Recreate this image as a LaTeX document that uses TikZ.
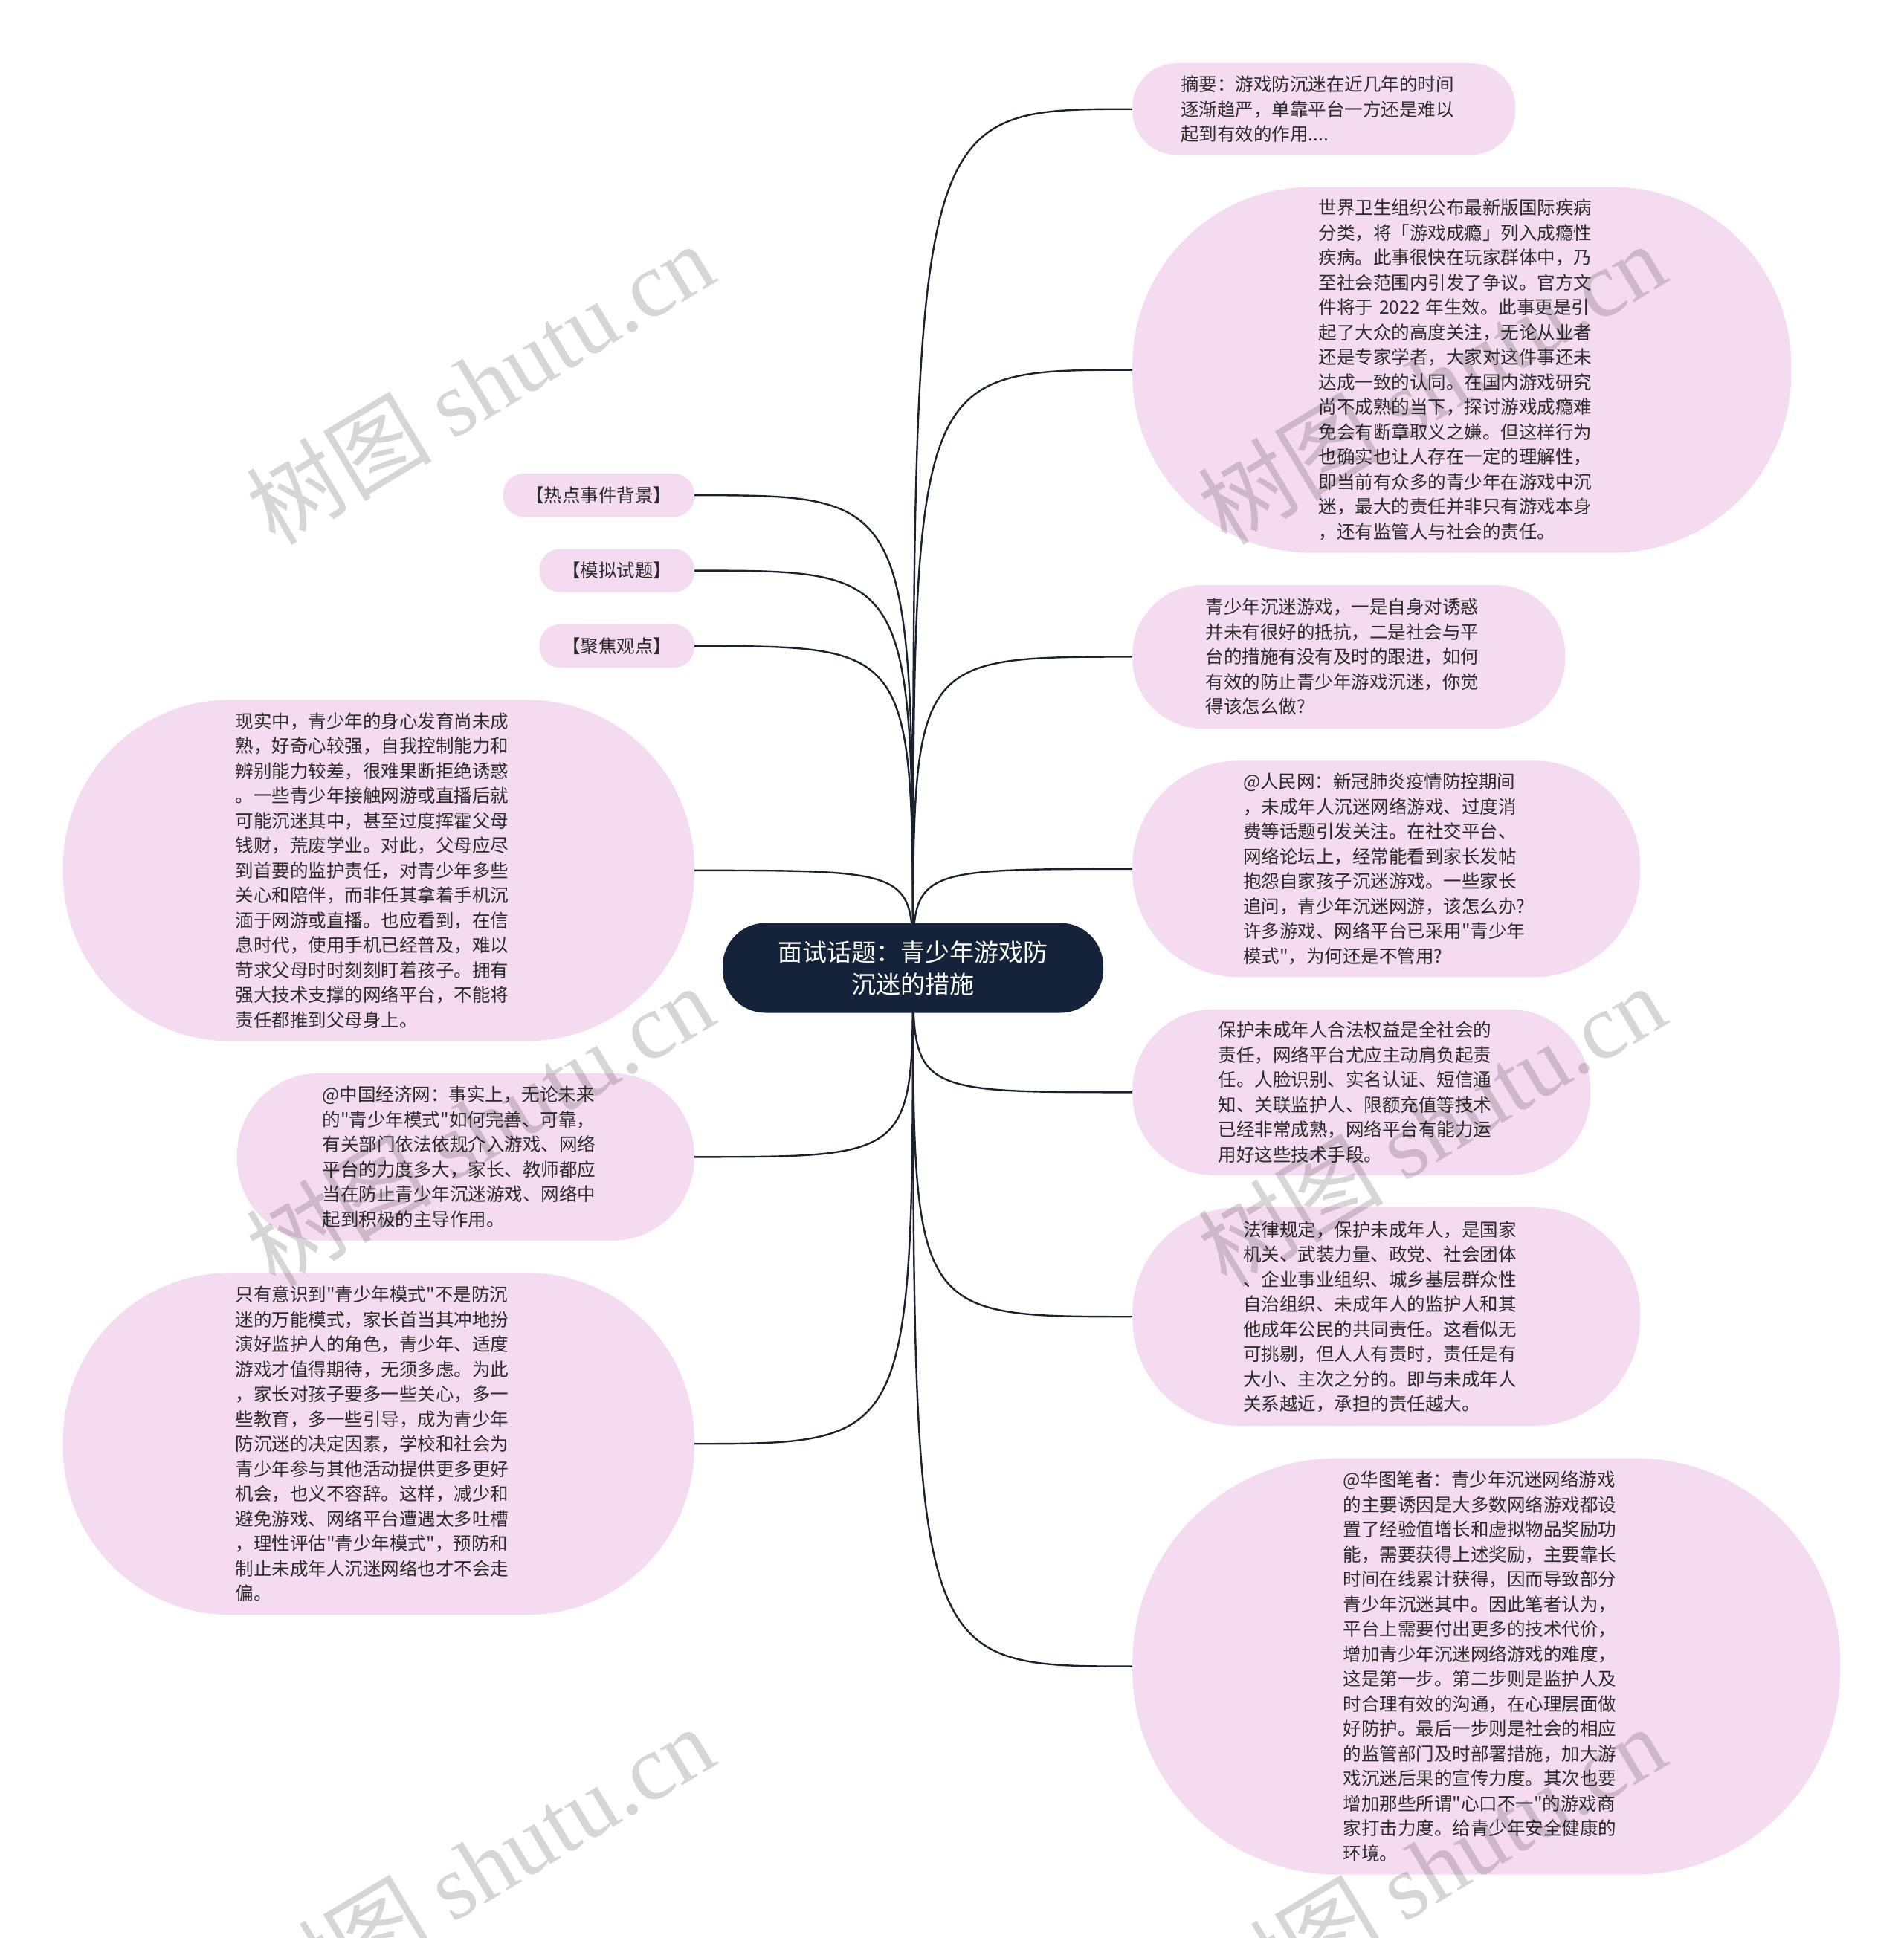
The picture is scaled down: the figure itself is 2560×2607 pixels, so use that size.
\documentclass[tikz,border=0pt]{standalone}
\usepackage{fontspec}
\setmainfont{Noto Sans CJK SC}[Ligatures=TeXOff]
\newfontfamily\wmlatin{Liberation Serif}
\usepackage{xcolor}
\usetikzlibrary{positioning,backgrounds}
\definecolor{leafpink}{HTML}{F5DBEF}
\definecolor{corenavy}{HTML}{15233A}
\definecolor{linkink}{HTML}{1B222E}
\definecolor{textink}{HTML}{2B2B2B}

\begin{document}
\begin{tikzpicture}[
  x=1pt, y=1pt,
  node distance=43pt and 0pt,
  leaf/.style={fill=leafpink, text=textink, inner sep=0pt, align=left,
               font=\fontsize{24.5}{33.5}\selectfont},
  para/.style={leaf, text width=385pt},
  core/.style={fill=corenavy, text=white, align=center, inner sep=0pt,
               minimum width=512pt, minimum height=121pt, rounded corners=58pt,
               font=\fontsize{33}{43}\selectfont},
  link/.style={draw=linkink, line width=2.4pt},
  wm/.style={text=black, opacity=0.16, rotate=31, font=\fontsize{125}{125}\selectfont},
]
\useasboundingbox (0,0) rectangle (2560,-2607);
\node[core] (core) at (1228,-1302) {面试话题：青少年游戏防\\沉迷的措施};
\node[para, anchor=north west, minimum width=515pt, minimum height=123pt,
  rounded corners=59pt] (abstract) at (1523,-85)
{摘要：游戏防沉迷在近几年的时间\\
逐渐趋严，单靠平台一方还是难以\\
起到有效的作用....};
\node[para, below right=of abstract.south west, minimum width=886pt,
  minimum height=492pt, rounded corners=240pt] (who)
{世界卫生组织公布最新版国际疾病\\
分类，将「游戏成瘾」列入成瘾性\\
疾病。此事很快在玩家群体中，乃\\
至社会范围内引发了争议。官方文\\
件将于 2022 年生效。此事更是引\\
起了大众的高度关注，无论从业者\\
还是专家学者，大家对这件事还未\\
达成一致的认同。在国内游戏研究\\
尚不成熟的当下，探讨游戏成瘾难\\
免会有断章取义之嫌。但这样行为\\
也确实也让人存在一定的理解性，\\
即当前有众多的青少年在游戏中沉\\
迷，最大的责任并非只有游戏本身\\
，还有监管人与社会的责任。};
\node[para, below right=of who.south west, minimum width=582pt,
  minimum height=193pt, rounded corners=94pt] (question)
{青少年沉迷游戏，一是自身对诱惑\\
并未有很好的抵抗，二是社会与平\\
台的措施有没有及时的跟进，如何\\
有效的防止青少年游戏沉迷，你觉\\
得该怎么做?};
\node[para, below right=of question.south west, minimum width=683pt,
  minimum height=291pt, rounded corners=143pt] (renmin)
{@人民网：新冠肺炎疫情防控期间\\
，未成年人沉迷网络游戏、过度消\\
费等话题引发关注。在社交平台、\\
网络论坛上，经常能看到家长发帖\\
抱怨自家孩子沉迷游戏。一些家长\\
追问，青少年沉迷网游，该怎么办?\\
许多游戏、网络平台已采用"青少年\\
模式"，为何还是不管用?};
\node[para, below right=of renmin.south west, minimum width=616pt,
  minimum height=223pt, rounded corners=109pt] (protect)
{保护未成年人合法权益是全社会的\\
责任，网络平台尤应主动肩负起责\\
任。人脸识别、实名认证、短信通\\
知、关联监护人、限额充值等技术\\
已经非常成熟，网络平台有能力运\\
用好这些技术手段。};
\node[para, below right=of protect.south west, minimum width=683pt,
  minimum height=294pt, rounded corners=144pt] (law)
{法律规定，保护未成年人，是国家\\
机关、武装力量、政党、社会团体\\
、企业事业组织、城乡基层群众性\\
自治组织、未成年人的监护人和其\\
他成年公民的共同责任。这看似无\\
可挑剔，但人人有责时，责任是有\\
大小、主次之分的。即与未成年人\\
关系越近，承担的责任越大。};
\node[para, below right=of law.south west, minimum width=952pt,
  minimum height=560pt, rounded corners=276pt] (huatu)
{@华图笔者：青少年沉迷网络游戏\\
的主要诱因是大多数网络游戏都设\\
置了经验值增长和虚拟物品奖励功\\
能，需要获得上述奖励，主要靠长\\
时间在线累计获得，因而导致部分\\
青少年沉迷其中。因此笔者认为，\\
平台上需要付出更多的技术代价，\\
增加青少年沉迷网络游戏的难度，\\
这是第一步。第二步则是监护人及\\
时合理有效的沟通，在心理层面做\\
好防护。最后一步则是社会的相应\\
的监管部门及时部署措施，加大游\\
戏沉迷后果的宣传力度。其次也要\\
增加那些所谓"心口不一"的游戏商\\
家打击力度。给青少年安全健康的\\
环境。};
\node[leaf, anchor=north east, minimum width=257pt, minimum height=58pt,
  rounded corners=27pt] (hotbg) at (934,-637) {【热点事件背景】};
\node[leaf, below left=of hotbg.south east, minimum width=208pt,
  minimum height=58pt, rounded corners=27pt] (mock) {【模拟试题】};
\node[leaf, below left=of mock.south east, minimum width=208pt,
  minimum height=58pt, rounded corners=27pt] (focus) {【聚焦观点】};
\node[para, below left=of focus.south east, minimum width=849pt,
  minimum height=459pt, rounded corners=225pt] (reality)
{现实中，青少年的身心发育尚未成\\
熟，好奇心较强，自我控制能力和\\
辨别能力较差，很难果断拒绝诱惑\\
。一些青少年接触网游或直播后就\\
可能沉迷其中，甚至过度挥霍父母\\
钱财，荒废学业。对此，父母应尽\\
到首要的监护责任，对青少年多些\\
关心和陪伴，而非任其拿着手机沉\\
湎于网游或直播。也应看到，在信\\
息时代，使用手机已经普及，难以\\
苛求父母时时刻刻盯着孩子。拥有\\
强大技术支撑的网络平台，不能将\\
责任都推到父母身上。};
\node[para, below left=of reality.south east, minimum width=615pt,
  minimum height=225pt, rounded corners=110pt] (jingji)
{@中国经济网：事实上，无论未来\\
的"青少年模式"如何完善、可靠，\\
有关部门依法依规介入游戏、网络\\
平台的力度多大，家长、教师都应\\
当在防止青少年沉迷游戏、网络中\\
起到积极的主导作用。};
\node[para, below left=of jingji.south east, minimum width=849pt,
  minimum height=460pt, rounded corners=225pt] (youthmode)
{只有意识到"青少年模式"不是防沉\\
迷的万能模式，家长首当其冲地扮\\
演好监护人的角色，青少年、适度\\
游戏才值得期待，无须多虑。为此\\
，家长对孩子要多一些关心，多一\\
些教育，多一些引导，成为青少年\\
防沉迷的决定因素，学校和社会为\\
青少年参与其他活动提供更多更好\\
机会，也义不容辞。这样，减少和\\
避免游戏、网络平台遭遇太多吐槽\\
，理性评估"青少年模式"，预防和\\
制止未成年人沉迷网络也才不会走\\
偏。};
\begin{scope}[on background layer]
\foreach \leafname in {abstract,who,question,renmin,protect,law,huatu}
  \draw[link] (core.center) .. controls (core.center |- \leafname.west) .. (\leafname.west);
\foreach \leafname in {hotbg,mock,focus,reality,jingji,youthmode}
  \draw[link] (core.center) .. controls (core.center |- \leafname.east) .. (\leafname.east);
\end{scope}
\node[wm] (wm1) at (645,-515) {树图 {\wmlatin shutu.cn}};
\node[wm] (wm2) at (1925,-515) {树图 {\wmlatin shutu.cn}};
\node[wm] (wm3) at (645,-1513) {树图 {\wmlatin shutu.cn}};
\node[wm] (wm4) at (1925,-1513) {树图 {\wmlatin shutu.cn}};
\node[wm] (wm5) at (645,-2510) {树图 {\wmlatin shutu.cn}};
\node[wm] (wm6) at (1925,-2510) {树图 {\wmlatin shutu.cn}};
\end{tikzpicture}
\end{document}
